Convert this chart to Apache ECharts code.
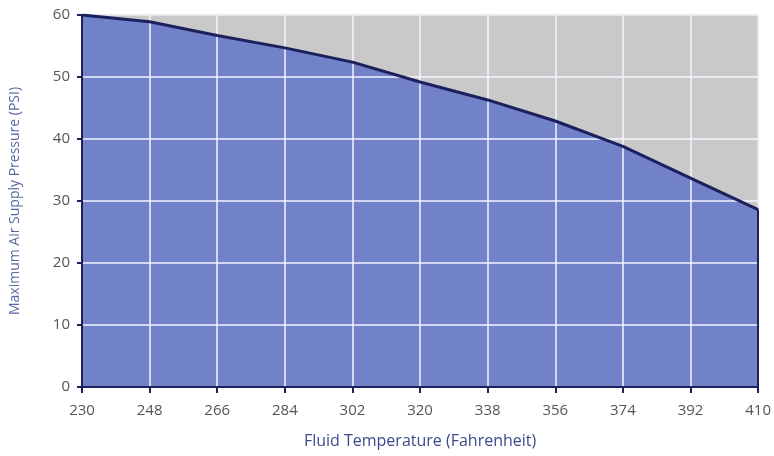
<!DOCTYPE html>
<html>
<head>
<meta charset="utf-8">
<script src="https://cdn.jsdelivr.net/npm/echarts@6/dist/echarts.min.js"></script>
<style>
    html, body { margin: 0; padding: 0; background: #fff; }
    #chart { width: 774px; height: 456px; }
</style>
</head>
<body>
<div id="chart"></div>
<script>
// fluid temperature (F) and max air pressure (PSI)
var temps = ['230', '248', '266', '284', '302', '320', '338', '356', '374', '392', '410'];
var pressure = [60, 58.9, 56.7, 54.7, 52.4, 49.2, 46.3, 42.9, 38.8, 33.7, 28.6];

var myChart = echarts.init(document.getElementById('chart'));
var navy = '#1c205c';
var labelFont = '"Open Sans", sans-serif';

var option = {
    animation: false,
    grid: {
        left: 81,
        right: 14,
        top: 15,
        bottom: 69,
        show: true,
        backgroundColor: '#c9c9c9',
        borderColor: '#9a9a9a',
        borderWidth: 1
    },
    xAxis: {
        type: 'category',
        data: temps,
        boundaryGap: false,
        z: 3,
        name: 'Fluid Temperature (Fahrenheit)',
        nameLocation: 'middle',
        nameGap: 46,
        nameTextStyle: { color: '#3c4a8c', fontSize: 16, fontFamily: labelFont },
        axisLine: { lineStyle: { color: navy, width: 2 } },
        axisTick: { alignWithLabel: true, length: 6, lineStyle: { color: navy, width: 2 } },
        axisLabel: { color: '#555', fontSize: 15, margin: 16, fontFamily: labelFont },
        splitLine: { show: true, lineStyle: { color: '#f4f4ff', width: 1.5 } }
    },
    yAxis: {
        type: 'value',
        min: 0,
        max: 60,
        interval: 10,
        z: 3,
        name: 'Maximum Air Supply Pressure (PSI)',
        nameLocation: 'middle',
        nameGap: 60,
        nameTextStyle: { color: '#5868a4', fontSize: 14, fontFamily: labelFont },
        axisLine: { show: true, lineStyle: { color: navy, width: 2 } },
        axisTick: { show: true, length: 5, lineStyle: { color: navy, width: 2 } },
        axisLabel: { color: '#555', fontSize: 15, margin: 12, fontFamily: labelFont },
        splitLine: { show: true, lineStyle: { color: '#f4f4ff', width: 1.5 } }
    },
    series: [
        {
            // filled area, under the grid lines
            type: 'line',
            data: pressure,
            symbol: 'none',
            lineStyle: { width: 0 },
            areaStyle: { color: '#7282c8', opacity: 1 },
            z: 1
        },
        {
            // boundary line on top
            type: 'line',
            data: pressure,
            symbol: 'none',
            lineStyle: { color: navy, width: 3 },
            z: 5,
            markLine: {
                silent: true,
                symbol: 'none',
                label: { show: false },
                lineStyle: { color: navy, width: 2, type: 'solid' },
                data: [[
                    { coord: [temps[temps.length - 1], 0] },
                    { coord: [temps[temps.length - 1], pressure[pressure.length - 1]] }
                ]]
            }
        }
    ]
};

myChart.setOption(option);
</script>
</body>
</html>
